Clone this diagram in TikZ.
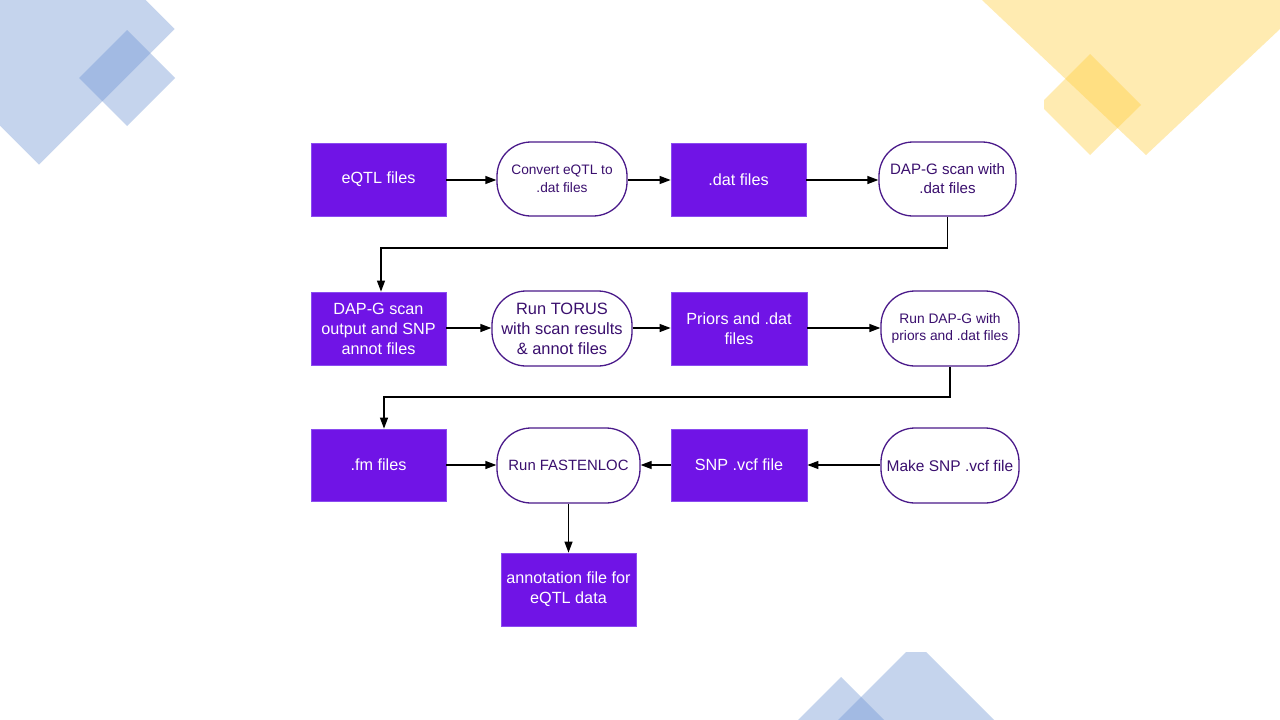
\documentclass[tikz,border=0pt]{standalone}
\usepackage{fontspec}
\setmainfont{Liberation Sans}
\usetikzlibrary{arrows.meta,calc}
\definecolor{bgblue}{HTML}{6E94D4}
\definecolor{bgyellow}{HTML}{FFCD3C}
\definecolor{boxpurple}{HTML}{7014E6}
\definecolor{boxedge}{HTML}{8A4CF0}
\definecolor{roundedge}{HTML}{4A1A8A}
\definecolor{roundtext}{HTML}{3A0F6E}
\begin{document}
\begin{tikzpicture}[x=1pt,y=-1pt,
  databox/.style={draw=boxedge,line width=0.8pt,fill=boxpurple,text=white,align=center,inner sep=0pt,font=\fontsize{16.2}{20}\selectfont},
  procbox/.style={draw=roundedge,line width=1.3pt,fill=white,text=roundtext,align=center,inner sep=0pt,rounded corners=34pt},
  arr/.style={draw=black,line width=1.3pt,-{Triangle[length=11pt,width=8pt]}},
  bgshape/.style={fill opacity=0.4}
]
\useasboundingbox (0,0) rectangle (1280,720);
\fill[white] (0,0) rectangle (1280,720);
\begin{scope}
\clip (0,0) rectangle (1280,720);
\fill[bgblue,bgshape] (39,-106.5) -- (174.5,29) -- (39,164.5) -- (-96.5,29) -- cycle;
\fill[bgblue,bgshape] (127,30) -- (175,78) -- (127,126) -- (79,78) -- cycle;
\fill[bgblue,bgshape] (906,652) -- (926,652) -- (1000,726) -- (832,726) -- cycle;
\fill[bgblue,bgshape] (841,677) -- (890,726) -- (792,726) -- cycle;
\fill[bgyellow,bgshape] (982,0) -- (1146,155) -- (1280,29) -- (1280,0) -- cycle;
\fill[bgyellow,bgshape] (1090,54) -- (1141,105) -- (1090,155) -- (1044,109) -- (1044,100) -- cycle;
\end{scope}

% row 1
\node[databox,minimum width=135pt,minimum height=73pt] (eqtl) at (378.5,179.5) {eQTL files};
\node[procbox,minimum width=130pt,minimum height=74pt,font=\fontsize{13.7}{18}\selectfont] (conv) at (562,179) {Convert eQTL to\\.dat files};
\node[databox,minimum width=135pt,minimum height=73pt] (dat) at (738.5,179.5) {.dat files};
\node[procbox,minimum width=137pt,minimum height=74pt,font=\fontsize{15.1}{19}\selectfont] (scan) at (947.5,179) {DAP-G scan with\\.dat files};
% row 2
\node[databox,minimum width=135pt,minimum height=73pt] (scanout) at (378.5,328.5) {DAP-G scan\\output and SNP\\annot files};
\node[procbox,minimum width=140pt,minimum height=75pt,font=\fontsize{16.4}{20}\selectfont] (torus) at (562,328.5) {Run TORUS\\with scan results\\\& annot files};
\node[databox,minimum width=136pt,minimum height=73pt] (priors) at (739,328.5) {Priors and .dat\\files};
\node[procbox,minimum width=138pt,minimum height=75pt,font=\fontsize{13.8}{17.5}\selectfont] (rundap) at (950,328.5) {Run DAP-G with\\priors and .dat files};
% row 3
\node[databox,minimum width=135pt,minimum height=72pt] (fm) at (378.5,465) {.fm files};
\node[procbox,minimum width=143pt,minimum height=75pt,font=\fontsize{14.9}{19}\selectfont] (fasten) at (568.5,465.5) {Run FASTENLOC};
\node[databox,minimum width=136pt,minimum height=72pt] (snp) at (739,465) {SNP .vcf file};
\node[procbox,minimum width=138pt,minimum height=75pt,font=\fontsize{15.5}{19}\selectfont] (make) at (950,465.5) {Make SNP .vcf file};
% row 4
\node[databox,minimum width=135pt,minimum height=73pt] (annot) at (568.5,589.5) {annotation file for\\eQTL data};

% connectors
\draw[arr] (eqtl.east |- 0,180) -- (conv.west |- 0,180);
\draw[arr] (conv.east |- 0,180) -- (dat.west |- 0,180);
\draw[arr] (dat.east |- 0,180) -- (scan.west |- 0,180);
\coordinate (k1) at (381,248);
\draw[arr] (scan.south) |- (k1) -- (k1 |- scanout.north);
\draw[arr] (scanout.east |- 0,328) -- (torus.west |- 0,328);
\draw[arr] (torus.east |- 0,328) -- (priors.west |- 0,328);
\draw[arr] (priors.east |- 0,328) -- (rundap.west |- 0,328);
\coordinate (k2) at (384,397);
\draw[arr] (rundap.south) |- (k2) -- (k2 |- fm.north);
\draw[arr] (fm.east |- 0,465) -- (fasten.west |- 0,465);
\draw[arr] (snp.west |- 0,465) -- (fasten.east |- 0,465);
\draw[arr] (make.west |- 0,465) -- (snp.east |- 0,465);
\draw[arr] (fasten.south) -- (annot.north);
\end{tikzpicture}
\end{document}
